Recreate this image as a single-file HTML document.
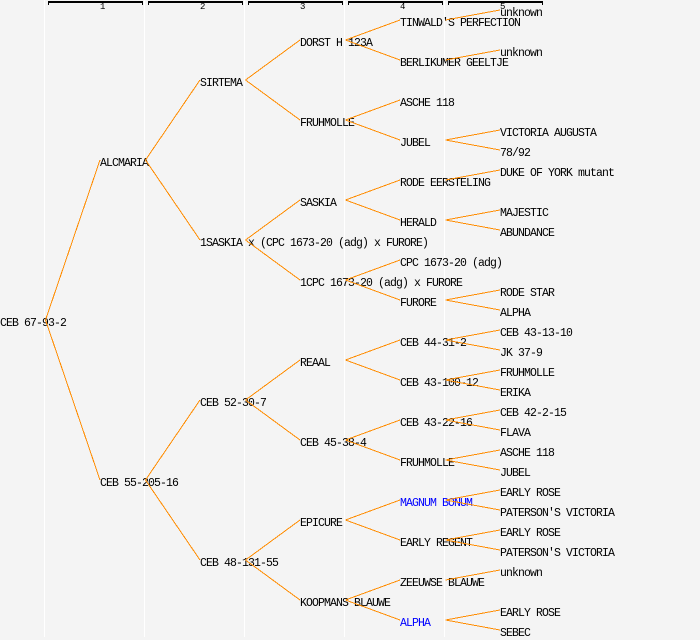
<!DOCTYPE html>
<html>
<head>
<meta charset="utf-8">
<style>
  html, body { margin: 0; padding: 0; background: #f4f4f4; }
  svg { display: block; }
  text { font-family: "Liberation Mono", "DejaVu Sans Mono", monospace; font-size: 11.5px; letter-spacing: -0.9px; fill: #000; }
  text.h { font-size: 9px; letter-spacing: 0; }
  text.b { fill: #0000ff; }
  line { stroke: #ff8c00; stroke-width: 1; }
</style>
</head>
<body>
<svg width="700" height="640" viewBox="0 0 700 640" xmlns="http://www.w3.org/2000/svg">
  <rect x="0" y="0" width="700" height="640" fill="#f4f4f4"/>
  <!-- column separators -->
  <g fill="#ffffff">
    <rect x="44" y="0" width="1" height="637"/>
    <rect x="144" y="0" width="1" height="637"/>
    <rect x="244" y="0" width="1" height="637"/>
    <rect x="344" y="0" width="1" height="637"/>
    <rect x="444" y="0" width="1" height="637"/>
  </g>
  <!-- header brackets -->
  <g fill="#000">
    <rect x="48" y="1" width="95" height="2"/><rect x="48" y="1" width="1" height="4"/><rect x="142" y="1" width="1" height="4"/>
    <rect x="148" y="1" width="95" height="2"/><rect x="148" y="1" width="1" height="4"/><rect x="242" y="1" width="1" height="4"/>
    <rect x="248" y="1" width="95" height="2"/><rect x="248" y="1" width="1" height="4"/><rect x="342" y="1" width="1" height="4"/>
    <rect x="348" y="1" width="95" height="2"/><rect x="348" y="1" width="1" height="4"/><rect x="442" y="1" width="1" height="4"/>
    <rect x="448" y="1" width="95" height="2"/><rect x="448" y="1" width="1" height="4"/><rect x="542" y="1" width="1" height="4"/>
  </g>
  <text class="h" x="100" y="9">1</text>
  <text class="h" x="200" y="9">2</text>
  <text class="h" x="300" y="9">3</text>
  <text class="h" x="400" y="9">4</text>
  <text class="h" x="500" y="9">5</text>

  <!-- node labels -->
  <text x="0" y="326">CEB 67-93-2</text>

  <text x="100" y="166">ALCMARIA</text>
  <text x="100" y="486">CEB 55-205-16</text>

  <text x="200" y="86">SIRTEMA</text>
  <text x="200" y="246">1SASKIA x (CPC 1673-20 (adg) x FURORE)</text>
  <text x="200" y="406">CEB 52-30-7</text>
  <text x="200" y="566">CEB 48-131-55</text>

  <text x="300" y="46">DORST H 123A</text>
  <text x="300" y="126">FRUHMOLLE</text>
  <text x="300" y="206">SASKIA</text>
  <text x="300" y="286">1CPC 1673-20 (adg) x FURORE</text>
  <text x="300" y="366">REAAL</text>
  <text x="300" y="446">CEB 45-38-4</text>
  <text x="300" y="526">EPICURE</text>
  <text x="300" y="606">KOOPMANS BLAUWE</text>

  <text x="400" y="26">TINWALD'S PERFECTION</text>
  <text x="400" y="66">BERLIKUMER GEELTJE</text>
  <text x="400" y="106">ASCHE 118</text>
  <text x="400" y="146">JUBEL</text>
  <text x="400" y="186">RODE EERSTELING</text>
  <text x="400" y="226">HERALD</text>
  <text x="400" y="266">CPC 1673-20 (adg)</text>
  <text x="400" y="306">FURORE</text>
  <text x="400" y="346">CEB 44-31-2</text>
  <text x="400" y="386">CEB 43-100-12</text>
  <text x="400" y="426">CEB 43-22-16</text>
  <text x="400" y="466">FRUHMOLLE</text>
  <text class="b" x="400" y="506">MAGNUM BONUM</text>
  <text x="400" y="546">EARLY REGENT</text>
  <text x="400" y="586">ZEEUWSE BLAUWE</text>
  <text class="b" x="400" y="626">ALPHA</text>

  <text x="500" y="16">unknown</text>
  <text x="500" y="56">unknown</text>
  <text x="500" y="136">VICTORIA AUGUSTA</text>
  <text x="500" y="156">78/92</text>
  <text x="500" y="176">DUKE OF YORK mutant</text>
  <text x="500" y="216">MAJESTIC</text>
  <text x="500" y="236">ABUNDANCE</text>
  <text x="500" y="296">RODE STAR</text>
  <text x="500" y="316">ALPHA</text>
  <text x="500" y="336">CEB 43-13-10</text>
  <text x="500" y="356">JK 37-9</text>
  <text x="500" y="376">FRUHMOLLE</text>
  <text x="500" y="396">ERIKA</text>
  <text x="500" y="416">CEB 42-2-15</text>
  <text x="500" y="436">FLAVA</text>
  <text x="500" y="456">ASCHE 118</text>
  <text x="500" y="476">JUBEL</text>
  <text x="500" y="496">EARLY ROSE</text>
  <text x="500" y="516">PATERSON'S VICTORIA</text>
  <text x="500" y="536">EARLY ROSE</text>
  <text x="500" y="556">PATERSON'S VICTORIA</text>
  <text x="500" y="576">unknown</text>
  <text x="500" y="616">EARLY ROSE</text>
  <text x="500" y="636">SEBEC</text>

  <!-- connectors -->
  <g shape-rendering="crispEdges">
    <line x1="45.5" y1="320" x2="100" y2="160"/>
    <line x1="45.5" y1="320" x2="100" y2="480"/>

    <line x1="145.5" y1="160" x2="200" y2="80"/>
    <line x1="145.5" y1="160" x2="200" y2="240"/>
    <line x1="145.5" y1="480" x2="200" y2="400"/>
    <line x1="145.5" y1="480" x2="200" y2="560"/>

    <line x1="245.5" y1="80" x2="300" y2="40"/>
    <line x1="245.5" y1="80" x2="300" y2="120"/>
    <line x1="245.5" y1="240" x2="300" y2="200"/>
    <line x1="245.5" y1="240" x2="300" y2="280"/>
    <line x1="245.5" y1="400" x2="300" y2="360"/>
    <line x1="245.5" y1="400" x2="300" y2="440"/>
    <line x1="245.5" y1="560" x2="300" y2="520"/>
    <line x1="245.5" y1="560" x2="300" y2="600"/>

    <line x1="345.5" y1="40" x2="400" y2="20"/>
    <line x1="345.5" y1="40" x2="400" y2="60"/>
    <line x1="345.5" y1="120" x2="400" y2="100"/>
    <line x1="345.5" y1="120" x2="400" y2="140"/>
    <line x1="345.5" y1="200" x2="400" y2="180"/>
    <line x1="345.5" y1="200" x2="400" y2="220"/>
    <line x1="345.5" y1="280" x2="400" y2="260"/>
    <line x1="345.5" y1="280" x2="400" y2="300"/>
    <line x1="345.5" y1="360" x2="400" y2="340"/>
    <line x1="345.5" y1="360" x2="400" y2="380"/>
    <line x1="345.5" y1="440" x2="400" y2="420"/>
    <line x1="345.5" y1="440" x2="400" y2="460"/>
    <line x1="345.5" y1="520" x2="400" y2="500"/>
    <line x1="345.5" y1="520" x2="400" y2="540"/>
    <line x1="345.5" y1="600" x2="400" y2="580"/>
    <line x1="345.5" y1="600" x2="400" y2="620"/>

    <line x1="445.5" y1="20" x2="500" y2="10"/>
    <line x1="445.5" y1="60" x2="500" y2="50"/>
    <line x1="445.5" y1="140" x2="500" y2="130"/>
    <line x1="445.5" y1="140" x2="500" y2="150"/>
    <line x1="445.5" y1="180" x2="500" y2="170"/>
    <line x1="445.5" y1="220" x2="500" y2="210"/>
    <line x1="445.5" y1="220" x2="500" y2="230"/>
    <line x1="445.5" y1="300" x2="500" y2="290"/>
    <line x1="445.5" y1="300" x2="500" y2="310"/>
    <line x1="445.5" y1="340" x2="500" y2="330"/>
    <line x1="445.5" y1="340" x2="500" y2="350"/>
    <line x1="445.5" y1="380" x2="500" y2="370"/>
    <line x1="445.5" y1="380" x2="500" y2="390"/>
    <line x1="445.5" y1="420" x2="500" y2="410"/>
    <line x1="445.5" y1="420" x2="500" y2="430"/>
    <line x1="445.5" y1="460" x2="500" y2="450"/>
    <line x1="445.5" y1="460" x2="500" y2="470"/>
    <line x1="445.5" y1="500" x2="500" y2="490"/>
    <line x1="445.5" y1="500" x2="500" y2="510"/>
    <line x1="445.5" y1="540" x2="500" y2="530"/>
    <line x1="445.5" y1="540" x2="500" y2="550"/>
    <line x1="445.5" y1="580" x2="500" y2="570"/>
    <line x1="445.5" y1="620" x2="500" y2="610"/>
    <line x1="445.5" y1="620" x2="500" y2="630"/>
  </g>
</svg>
</body>
</html>
